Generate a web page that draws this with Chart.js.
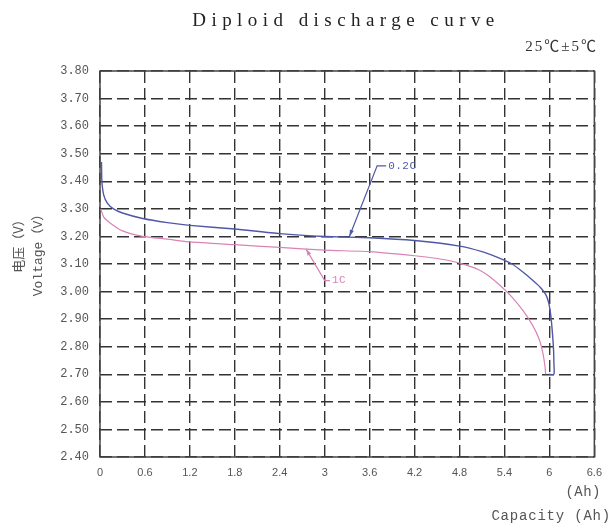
<!DOCTYPE html>
<html>
<head>
<meta charset="utf-8">
<script src="https://cdn.jsdelivr.net/npm/chart.js@4.4.1/dist/chart.umd.min.js"></script>
<style>
  html, body { margin: 0; padding: 0; background: #fff; }
  canvas { display: block; }
</style>
</head>
<body>
<canvas id="grafico" width="611" height="524"></canvas>
<script>
/* DADOS */
const capacityTicks = [0, 0.6, 1.2, 1.8, 2.4, 3, 3.6, 4.2, 4.8, 5.4, 6, 6.6];
const capacityLabels = ["0", "0.6", "1.2", "1.8", "2.4", "3", "3.6", "4.2", "4.8", "5.4", "6", "6.6"];
const voltageTicks = [2.4, 2.5, 2.6, 2.7, 2.8, 2.9, 3.0, 3.1, 3.2, 3.3, 3.4, 3.5, 3.6, 3.7, 3.8];

const cap02 = [0.02, 0.025, 0.05, 0.1, 0.18, 0.3, 0.57, 0.9, 1.2, 1.8, 2.4, 3.0, 3.6, 4.2, 4.8, 5.1, 5.3, 5.5, 5.65, 5.78, 5.88, 5.95, 5.99, 6.02, 6.04, 6.055, 6.06, 6.06, 5.99];
const volt02 = [3.47, 3.40, 3.35, 3.32, 3.30, 3.285, 3.265, 3.25, 3.24, 3.227, 3.21, 3.20, 3.195, 3.185, 3.165, 3.145, 3.125, 3.10, 3.07, 3.04, 3.015, 2.99, 2.96, 2.91, 2.85, 2.79, 2.74, 2.70, 2.70];

const cap1C = [0.01, 0.05, 0.13, 0.3, 0.57, 0.9, 1.2, 1.8, 2.4, 3.0, 3.6, 4.2, 4.5, 4.7, 4.9, 5.05, 5.2, 5.35, 5.5, 5.65, 5.77, 5.86, 5.91, 5.94, 5.95];
const volt1C = [3.30, 3.27, 3.25, 3.22, 3.20, 3.19, 3.18, 3.17, 3.16, 3.15, 3.145, 3.13, 3.12, 3.11, 3.095, 3.08, 3.055, 3.02, 2.98, 2.93, 2.88, 2.83, 2.78, 2.73, 2.70];

const azul = "#4f58a6";
const rosa = "#d983b6";

/* ROTULOS DAS CURVAS */
const rotulos = [
  {texto: "0.2C", cor: azul, ponto: [3.33, 3.20], cotovelo: [3.70, 3.456], fim: [3.82, 3.456]},
  {texto: "1C", cor: rosa, ponto: [2.75, 3.155], cotovelo: [3.0, 3.04], fim: [3.07, 3.04]}
];

function pares(xs, ys) {
  return xs.map((x, i) => ({x: x, y: ys[i]}));
}

function texto(ctx, t, x, y, font, cor, align, espaco) {
  ctx.save();
  ctx.font = font;
  ctx.fillStyle = cor;
  ctx.textAlign = align;
  ctx.textBaseline = "middle";
  ctx.letterSpacing = (espaco || 0) + "px";
  ctx.fillText(t, x, y);
  ctx.restore();
}

const extras = {
  id: "extras",
  beforeDatasetsDraw(chart) {
    const {ctx, chartArea: a} = chart;
    // moldura
    ctx.save();
    ctx.strokeStyle = "#444";
    ctx.lineWidth = 1.5;
    ctx.strokeRect(a.left, a.top, a.right - a.left, a.bottom - a.top);
    ctx.restore();
  },
  afterDraw(chart) {
    const {ctx, scales: {x, y}} = chart;

    // rotulos com linha de chamada
    rotulos.forEach(r => {
      const px = x.getPixelForValue(r.ponto[0]), py = y.getPixelForValue(r.ponto[1]);
      const cx = x.getPixelForValue(r.cotovelo[0]), cy = y.getPixelForValue(r.cotovelo[1]);
      const fx = x.getPixelForValue(r.fim[0]), fy = y.getPixelForValue(r.fim[1]);
      ctx.save();
      ctx.strokeStyle = r.cor;
      ctx.fillStyle = r.cor;
      ctx.lineWidth = 1.2;
      ctx.beginPath();
      ctx.moveTo(fx, fy);
      ctx.lineTo(cx, cy);
      ctx.lineTo(px, py);
      ctx.stroke();
      const ang = Math.atan2(py - cy, px - cx);
      ctx.beginPath();
      ctx.moveTo(px, py);
      ctx.lineTo(px - 7 * Math.cos(ang - 0.3), py - 7 * Math.sin(ang - 0.3));
      ctx.lineTo(px - 7 * Math.cos(ang + 0.3), py - 7 * Math.sin(ang + 0.3));
      ctx.closePath();
      ctx.fill();
      ctx.restore();
      texto(ctx, r.texto, fx + 2, fy, "11px 'Liberation Mono'", r.cor, "left", 0.5);
    });

    // titulo com espaçamento ajustado
    ctx.save();
    ctx.font = "19px 'Liberation Serif'";
    const t = "Diploid discharge curve";
    const w = ctx.measureText(t).width;
    const esp = (302 - w) / (t.length - 1);
    ctx.restore();
    texto(ctx, t, 346, 21, "19px 'Liberation Serif'", "#222", "center", esp);
    texto(ctx, "25℃±5℃", 598, 47, "15px 'Liberation Serif', 'Noto Sans CJK SC'", "#333", "right", 2);

    // titulo do eixo y
    ctx.save();
    ctx.translate(18, 243);
    ctx.rotate(-Math.PI / 2);
    texto(ctx, "电压（V）", 0, 0, "13px 'Noto Sans CJK SC'", "#555", "center", 0);
    ctx.restore();
    ctx.save();
    ctx.translate(39, 252);
    ctx.rotate(-Math.PI / 2);
    texto(ctx, "Voltage（V）", 0, 0, "13px 'Liberation Mono', 'Noto Sans CJK SC'", "#555", "center", 0);
    ctx.restore();

    // titulo do eixo x
    texto(ctx, "(Ah)", 601, 492, "14px 'Liberation Mono'", "#555", "right", 0.5);
    texto(ctx, "Capacity (Ah)", 611, 516, "14px 'Liberation Mono'", "#555", "right", 0.8);
  }
};

new Chart(document.getElementById("grafico"), {
  type: "scatter",
  data: {
    datasets: [
      {label: "0.2C", data: pares(cap02, volt02), borderColor: azul, showLine: true, borderWidth: 1.4, pointRadius: 0, tension: 0.2},
      {label: "1C", data: pares(cap1C, volt1C), borderColor: rosa, showLine: true, borderWidth: 1.2, pointRadius: 0, tension: 0.2}
    ]
  },
  options: {
    responsive: false,
    animation: false,
    layout: {padding: {top: 71, right: 12, left: 0, bottom: 0}},
    plugins: {legend: {display: false}, tooltip: {enabled: false}},
    scales: {
      x: {
        type: "linear",
        min: 0,
        max: 6.6,
        afterBuildTicks: s => { s.ticks = capacityTicks.map(v => ({value: v})); },
        afterFit: s => { s.height = 67; },
        ticks: {
          callback: (v, i) => capacityLabels[i],
          color: "#555",
          font: {family: "'Liberation Sans Narrow', 'Liberation Sans'", size: 11},
          padding: 9,
          maxRotation: 0,
          autoSkip: false
        },
        grid: {color: "#333", lineWidth: 1.4, drawTicks: false},
        border: {display: false, dash: [12, 5]}
      },
      y: {
        min: 2.4,
        max: 3.8,
        afterBuildTicks: s => { s.ticks = voltageTicks.map(v => ({value: v})); },
        afterFit: s => { s.width = 100; },
        ticks: {
          callback: v => v.toFixed(2),
          color: "#555",
          font: {family: "'Liberation Mono'", size: 12},
          padding: 11,
          autoSkip: false
        },
        grid: {color: "#333", lineWidth: 1.4, drawTicks: false},
        border: {display: false, dash: [12, 5]}
      }
    }
  },
  plugins: [extras]
});
</script>
</body>
</html>
